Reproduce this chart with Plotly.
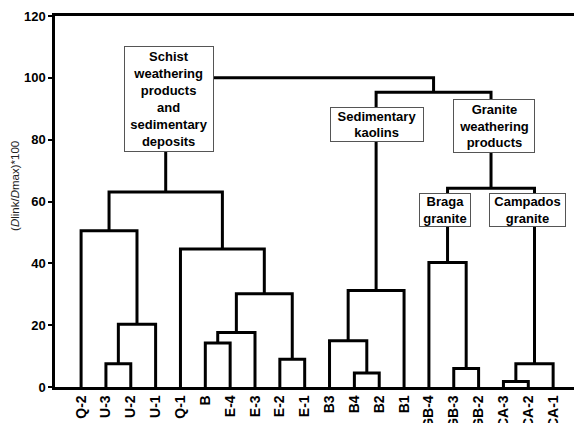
import plotly.graph_objects as go

# ---- data ----
leaf_labels = ["Q-2", "U-3", "U-2", "U-1", "Q-1", "B", "E-4", "E-3", "E-2", "E-1",
               "B3", "B4", "B2", "B1", "GB-4", "GB-3", "GB-2", "CA-3", "CA-2", "CA-1"]
# merges: cluster ids 0..19 are leaves, each merge creates id 20, 21, ...
merge_left = [1, 20, 0, 5, 23, 8, 24, 4, 22, 11, 10, 30, 15, 14, 17, 34, 33, 31, 28]
merge_right = [2, 3, 21, 6, 7, 9, 25, 26, 27, 12, 29, 13, 16, 32, 18, 19, 35, 36, 37]
merge_height = [7.5, 20.3, 50.5, 14.2, 17.6, 9.0, 30.2, 44.6, 63.1, 4.5, 15.0, 31.2,
                6.0, 40.3, 1.8, 7.5, 64.3, 95.3, 100.0]
y_ticks = [0, 20, 40, 60, 80, 100, 120]

group_labels = ["Schist<br>weathering<br>products<br>and<br>sedimentary<br>deposits",
                "Sedimentary<br>kaolins",
                "Granite<br>weathering<br>products",
                "Braga<br>granite",
                "Campados<br>granite"]
group_x = [3.55, 11.91, 16.62, 14.64, 17.98]
group_y = [93.0, 85.0, 84.3, 57.3, 57.2]
group_w = [88, 92, 80, 50, 75]
group_h = [104, 33, 52, 32, 32]

# ---- dendrogram geometry ----
n = len(leaf_labels)
pos = {i: float(i) for i in range(n)}
hgt = {i: 0.0 for i in range(n)}
xs, ys = [], []
for k, (a, b, h) in enumerate(zip(merge_left, merge_right, merge_height)):
    cid = n + k
    xs += [pos[a], pos[a], pos[b], pos[b], None]
    ys += [hgt[a], h, h, hgt[b], None]
    pos[cid] = (pos[a] + pos[b]) / 2
    hgt[cid] = h

FONT = "Liberation Sans, Arial, Helvetica, sans-serif"

fig = go.Figure()
fig.add_trace(go.Scatter(x=xs, y=ys, mode="lines",
                         line=dict(color="black", width=3),
                         hoverinfo="skip", showlegend=False))

for t, x, y, w, h in zip(group_labels, group_x, group_y, group_w, group_h):
    fig.add_annotation(x=x, y=y, xref="x", yref="y", text=t, showarrow=False,
                       xanchor="center", yanchor="middle",
                       width=w, height=h, align="center", valign="middle",
                       bgcolor="white", bordercolor="#555", borderwidth=1, borderpad=0,
                       font=dict(family=FONT, size=13, color="black", weight="bold"))

fig.add_annotation(x=-0.077, y=0.542, xref="paper", yref="paper",
                   text="(<i>D</i>link/<i>D</i>max)*100", showarrow=False,
                   textangle=-90, xanchor="center", yanchor="middle",
                   font=dict(family=FONT, size=11.5, color="#222"))

fig.update_xaxes(range=[-1.05, 19.84], tickmode="array",
                 tickvals=list(range(n)), ticktext=leaf_labels,
                 tickangle=-90, ticks="", showgrid=False, zeroline=False,
                 showline=True, linecolor="black", linewidth=2.5, mirror=True,
                 automargin=False,
                 tickfont=dict(family=FONT, size=14, color="black", weight="bold"))
fig.update_yaxes(range=[0, 120], tickmode="array", tickvals=y_ticks,
                 ticks="outside", ticklen=4, tickwidth=2, tickcolor="black",
                 showgrid=False, zeroline=False,
                 showline=True, linecolor="black", linewidth=2.5,
                 automargin=False,
                 tickfont=dict(family=FONT, size=13, color="black", weight="bold"))

fig.update_layout(width=574, height=423,
                  margin=dict(l=55, r=0, t=16, b=36),
                  plot_bgcolor="white", paper_bgcolor="white",
                  showlegend=False)

fig.write_html("out.html")
